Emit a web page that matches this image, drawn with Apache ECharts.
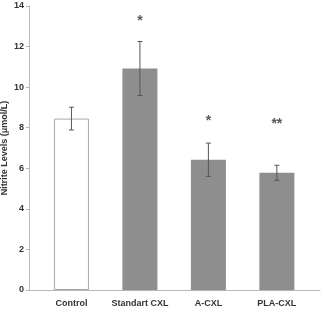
<!DOCTYPE html>
<html><head><meta charset="utf-8">
<script src="https://cdn.jsdelivr.net/npm/echarts@6/dist/echarts.min.js"></script>
<style>html,body{margin:0;padding:0;background:#fff}#c{width:326px;height:312px}</style>
</head><body><div id="c"></div>
<script>
var categories = ['Control', 'Standart CXL', 'A-CXL', 'PLA-CXL'];
var means = [8.45, 10.92, 6.42, 5.78];
var errors = [0.56, 1.33, 0.82, 0.37];
var sigLabels = ['', '*', '*', '**'];
var sigLevels = [0, 13.25, 8.3, 8.2];
var yTicks = [0, 2, 4, 6, 8, 10, 12, 14];

var chart = echarts.init(document.getElementById('c'), null, {renderer: 'canvas'});
var barData = means.map(function (m, i) {
  return {
    value: [i, m],
    itemStyle: i === 0 ? {color: '#ffffff', borderColor: '#a8a8a8', borderWidth: 1} : {color: '#8e8e8e'}
  };
});
var errData = means.map(function (m, i) { return [i, m - errors[i], m + errors[i], sigLevels[i]]; });

chart.setOption({
  animation: false,
  grid: {left: 29, right: 6, top: 6, bottom: 22, containLabel: false, outerBoundsMode: 'none'},
  xAxis: {
    type: 'value', min: -0.62, max: 3.63,
    axisLine: {show: true, onZero: false, lineStyle: {color: '#b8b8b8'}},
    axisTick: {show: false},
    splitLine: {show: false},
    axisLabel: {
      customValues: [0, 1, 2, 3],
      formatter: function (v) { return categories[Math.round(v)]; },
      fontFamily: 'Liberation Sans', fontWeight: 'bold', fontSize: 9, color: '#333', margin: 9
    }
  },
  yAxis: {
    type: 'value', min: yTicks[0], max: yTicks[yTicks.length - 1], interval: 2,
    name: 'Nitrite Levels (\u03bcmol/L)', nameLocation: 'middle', nameGap: 20, nameMoveOverlap: false,
    nameTextStyle: {fontFamily: 'Liberation Sans', fontWeight: 'bold', fontSize: 9, color: '#333'},
    axisLine: {show: true, onZero: false, lineStyle: {color: '#b8b8b8'}},
    axisTick: {show: true, length: 3, lineStyle: {color: '#b8b8b8'}},
    splitLine: {show: false},
    axisLabel: {fontFamily: 'Liberation Sans', fontWeight: 'bold', fontSize: 9, color: '#333', margin: 5}
  },
  series: [
    {type: 'bar', data: barData, barWidth: 35, z: 2},
    {
      type: 'custom', data: errData, z: 5,
      encode: {x: 0, y: [1, 2]},
      renderItem: function (params, api) {
        var x = api.value(0);
        var lo = api.coord([x, api.value(1)]);
        var hi = api.coord([x, api.value(2)]);
        var cw = 2.5;
        var st = {stroke: '#555', lineWidth: 1};
        var children = [
          {type: 'line', shape: {x1: lo[0], y1: lo[1], x2: hi[0], y2: hi[1]}, style: st},
          {type: 'line', shape: {x1: lo[0] - cw, y1: lo[1], x2: lo[0] + cw, y2: lo[1]}, style: st},
          {type: 'line', shape: {x1: hi[0] - cw, y1: hi[1], x2: hi[0] + cw, y2: hi[1]}, style: st}
        ];
        var lab = sigLabels[params.dataIndex];
        if (lab) {
          var sp = api.coord([x, api.value(3)]);
          children.push({type: 'text', style: {text: lab, x: sp[0], y: sp[1], align: 'center', verticalAlign: 'middle',
            fontFamily: 'Liberation Sans', fontWeight: 'bold', fontSize: 14, fill: '#5a5a5a'}});
        }
        return {type: 'group', children: children};
      }
    }
  ]
});
</script></body></html>
